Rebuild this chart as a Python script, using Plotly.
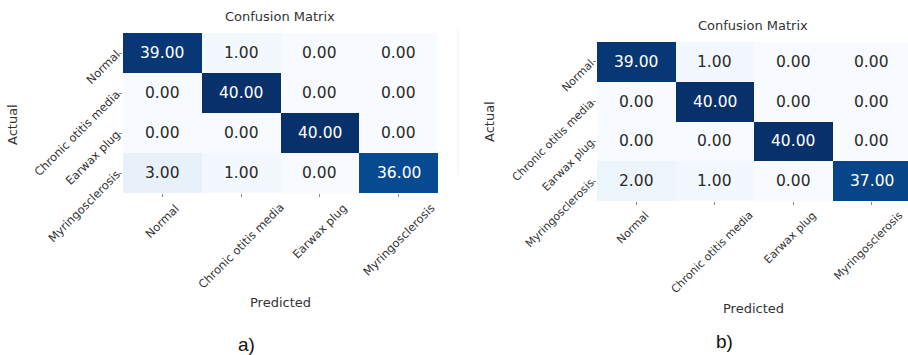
import plotly.graph_objects as go
import plotly.express as px

classes = ["Normal", "Chronic otitis media", "Earwax plug", "Myringosclerosis"]
cm_a = [[39, 1, 0, 0],
        [0, 40, 0, 0],
        [0, 0, 40, 0],
        [3, 1, 0, 36]]
cm_b = [[39, 1, 0, 0],
        [0, 40, 0, 0],
        [0, 0, 40, 0],
        [2, 1, 0, 37]]
panel_labels = ["a)", "b)"]

W, H = 908, 355
FONT = "DejaVu Sans"
blues = px.colors.sequential.Blues

fig = go.Figure()

# pixel geometry of panels: (left, right, top, bottom)
panels = [
    dict(cm=cm_a, px=(123, 438, 33, 193), xr=[-0.5, 3.5], title=(280, 16), actual=(13, 125), pred=(280, 302),
         lab=(246, 344), tick_size=11.5, xshift=0),
    dict(cm=cm_b, px=(597, 908, 42, 201), xr=[-0.5, 3.46], title=(753, 25), actual=(489, 122), pred=(753, 308),
         lab=(724, 341), tick_size=11, xshift=-3),
]

def fx(p):
    return p / W

def fy(p):
    return 1 - p / H

def paper_text(x, y, text, size, family=FONT, color="#333", angle=0):
    fig.add_annotation(x=fx(x), y=fy(y), xref="paper", yref="paper", text=text, textangle=angle,
                       xanchor="center", yanchor="middle", showarrow=False,
                       font=dict(family=family, size=size, color=color))

for i, pnl in enumerate(panels):
    n = i + 1
    xa = "x" if n == 1 else f"x{n}"
    ya = "y" if n == 1 else f"y{n}"
    l, r, t, b = pnl["px"]
    cm = pnl["cm"]
    fig.add_trace(go.Heatmap(
        z=cm, x=list(range(4)), y=list(range(4)),
        colorscale=blues, zmin=0, zmax=40, showscale=False,
        xaxis=xa, yaxis=ya, xgap=0, ygap=0, hoverinfo="z",
    ))
    for ri, row in enumerate(cm):
        for ci, v in enumerate(row):
            fig.add_annotation(
                x=ci, y=ri, xref=xa, yref=ya, text=f"{v:.2f}", showarrow=False,
                xanchor="center", yanchor="middle",
                font=dict(family=FONT, size=15.5, color="white" if v > 20 else "#2a2a2a"),
            )
    # x tick labels, centred under ticks like matplotlib rotation=45
    for ci, name in enumerate(classes):
        fig.add_annotation(
            x=ci, y=fy(b + 5), xref=xa, yref="paper", text=name, textangle=-45,
            xanchor="center", yanchor="top", showarrow=False, xshift=pnl["xshift"],
            font=dict(family=FONT, size=pnl["tick_size"], color="#333"),
        )
    axkey = "xaxis" if n == 1 else f"xaxis{n}"
    aykey = "yaxis" if n == 1 else f"yaxis{n}"
    fig.update_layout(**{
        axkey: dict(domain=[fx(l), min(fx(r), 1.0)], anchor=ya, range=pnl["xr"], automargin=False,
                    tickmode="array", tickvals=list(range(4)), showticklabels=False,
                    ticks="outside", ticklen=3, tickcolor="#888",
                    showgrid=False, zeroline=False, showline=False),
        aykey: dict(domain=[fy(b), fy(t)], anchor=xa, range=[3.5, -0.5], automargin=False,
                    tickmode="array", tickvals=list(range(4)), ticktext=classes,
                    tickangle=-45, ticks="outside", ticklen=3, tickcolor="#888",
                    tickfont=dict(family=FONT, size=pnl["tick_size"], color="#333"),
                    showgrid=False, zeroline=False, showline=False),
    })
    paper_text(*pnl["title"], "Confusion Matrix", 13)
    paper_text(*pnl["actual"], "Actual", 13, angle=-90)
    paper_text(*pnl["pred"], "Predicted", 13)
    paper_text(*pnl["lab"], panel_labels[i], 19, family="Liberation Sans", color="#111")

fig.add_shape(type="line", xref="paper", yref="paper", x0=fx(458), x1=fx(458), y0=fy(30), y1=fy(175),
              line=dict(color="#ececec", width=1))

fig.update_layout(width=W, height=H, margin=dict(l=0, r=0, t=0, b=0, autoexpand=False),
                  paper_bgcolor="white", plot_bgcolor="white", showlegend=False)
fig.write_html("out.html")
